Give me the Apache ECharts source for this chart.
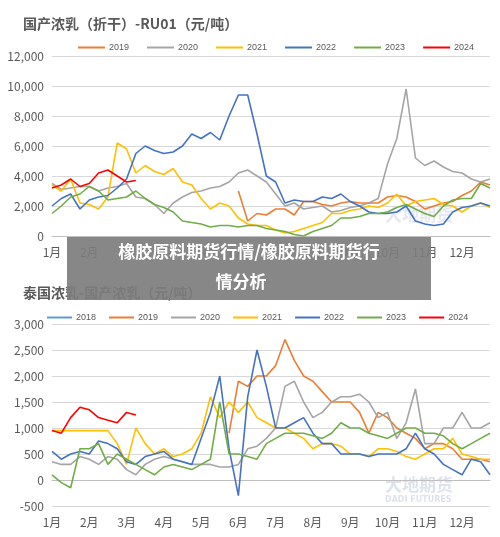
<!DOCTYPE html>
<html><head><meta charset="utf-8">
<script src="https://cdn.jsdelivr.net/npm/echarts@6/dist/echarts.min.js"></script>
<style>html,body{margin:0;padding:0;background:#fff}#c{width:500px;height:537px}</style>
</head><body><div id="c"></div>
<script>
const months = ['1月','2月','3月','4月','5月','6月','7月','8月','9月','10月','11月','12月'];
const years = ['2018','2019','2020','2021','2022','2023','2024'];
const colors = ['#5B9BD5','#ED7D31','#A5A5A5','#FFC000','#4472C4','#70AD47','#FF0000'];
const N = 48;
const N0 = null;
// Top chart: 国产浓乳（折干）-RU01
const top2019 = [N0,N0,N0,N0,N0,N0,N0,N0,N0,N0,N0,N0,N0,N0,N0,N0,N0,N0,N0,N0,3000,1000,1500,1400,1800,1800,1400,2300,2300,2100,2000,2200,2300,2200,2200,2200,2600,2700,2600,2300,1800,2000,2200,2300,2700,3000,3600,3400];
const top2020 = [3500,3100,3200,3300,3300,3000,3200,3300,3500,2600,2500,2100,1500,2200,2600,2900,3000,3200,3300,3600,4200,4400,4000,3600,2800,2000,2200,1800,1900,2000,1600,1700,1900,2000,2200,2500,4800,6500,9800,5200,4700,5000,4600,4300,4200,3800,3600,3800];
const top2021 = [3400,3000,3800,2200,2100,1800,2600,6200,5800,4200,4700,4300,4100,4500,3600,3400,2500,1800,2200,2000,1200,800,700,700,400,200,300,500,700,900,1500,1500,1700,1800,2000,1900,2200,2800,2000,2300,2400,2500,2100,2000,1600,2000,2200,1900];
const top2022 = [2000,2500,2800,1800,2400,2600,2700,3200,3800,5500,6000,5700,5500,5600,6000,6800,6500,6900,6400,8000,9400,9400,6800,4000,3600,2200,2400,2300,2300,2600,2500,2800,2300,2000,1600,1500,1500,1600,2000,1000,800,700,800,1600,1900,2000,2200,2000];
const top2023 = [1500,2000,2600,2800,3300,3000,2400,2500,2600,3000,2500,2100,1900,1600,1000,900,800,600,700,700,600,700,700,500,400,300,100,0,300,500,700,1200,1200,1300,1500,1500,1600,1900,2100,1800,1500,1300,2000,2400,2500,2500,3500,3200];
const top2024 = [3200,3400,3800,3300,3500,4200,4400,4000,3600,3700];
// Bottom chart: 泰国浓乳-国产浓乳
const bot2018 = [];
const bot2019 = [N0,N0,N0,N0,N0,N0,N0,N0,N0,N0,N0,N0,N0,N0,N0,N0,N0,N0,N0,900,1900,1800,2000,2000,2200,2700,2300,2000,1900,1700,1500,1500,1500,1300,900,1300,1200,1000,900,800,600,700,700,600,400,400,400,350];
const bot2020 = [350,300,300,450,400,300,450,400,200,100,300,400,450,400,350,300,300,300,250,250,300,600,650,800,1000,1800,1900,1500,1200,1300,1500,1600,1600,1650,1500,1200,1300,800,1100,1750,700,700,1000,1000,1300,1000,1000,1100];
const bot2021 = [950,950,950,950,950,950,950,700,300,1000,700,500,600,450,500,600,900,1600,1200,1500,1300,1500,1200,1100,1000,1000,900,800,600,700,700,650,500,500,450,600,600,550,450,400,500,600,600,800,500,450,400,400];
const bot2022 = [550,400,500,550,500,750,700,600,350,300,450,500,550,400,350,300,800,1300,2000,600,-300,1600,2500,1800,1000,1000,1100,1200,900,700,700,500,500,500,450,500,500,500,600,900,600,500,300,200,100,400,350,100];
const bot2023 = [100,-50,-150,600,600,700,300,500,400,300,200,100,250,300,250,200,300,400,1500,500,500,450,400,700,800,900,900,900,850,800,900,1100,1000,1000,900,850,800,900,1000,1000,900,900,850,700,600,700,800,900];
const bot2024 = [950,900,1200,1400,1350,1200,1150,1100,1300,1250];
const topTicks = {min:0,max:12000,interval:2000};
const botTicks = {min:-500,max:3000,interval:500};

const cats = Array.from({length:N},(_,i)=>i);
const topData = [null, top2019, top2020, top2021, top2022, top2023, top2024];
const botData = [bot2018, bot2019, bot2020, bot2021, bot2022, bot2023, bot2024];
const axisLbl = {color:'#595959', fontSize:11, fontFamily:'Noto Sans CJK SC'};
function xAxis(gi){return {type:'category',gridIndex:gi,data:cats,boundaryGap:false,
  axisTick:{show:false},axisLine:{lineStyle:{color:'#bfbfbf'}},
  axisLabel:Object.assign({},axisLbl,{fontSize:12,interval:0,margin:10,formatter:v=>(v%4===0?months[v/4]:'')})};}
function yAxis(gi,t){return Object.assign({type:'value',gridIndex:gi,axisLine:{show:false},axisTick:{show:false},
  splitLine:{lineStyle:{color:'#d9d9d9'}},axisLabel:Object.assign({},axisLbl,{fontSize:12})},t);}
const series=[];
years.forEach((y,k)=>{
  if(topData[k]) series.push({name:y,type:'line',xAxisIndex:0,yAxisIndex:0,data:topData[k],symbol:'none',lineStyle:{width:1.6,color:colors[k]},itemStyle:{color:colors[k]},z:k});
  series.push({name:y,type:'line',xAxisIndex:1,yAxisIndex:1,data:botData[k],symbol:'none',lineStyle:{width:1.6,color:colors[k]},itemStyle:{color:colors[k]},z:k});
});
const legStyle={icon:'rect',itemHeight:2,width:460,padding:0,textStyle:{color:'#595959',fontSize:9,padding:[0,0,0,-1]}};
const chart=echarts.init(document.getElementById('c'));
chart.setOption({
  animation:false,
  title:[{text:'国产浓乳（折干）-RU01（元/吨）',left:18,top:12,textStyle:{fontSize:14,fontWeight:'bold',color:'#595959',fontFamily:'Noto Sans CJK SC'}},
         {text:'泰国浓乳-国产浓乳（元/吨）',left:18,top:281,textStyle:{fontSize:14,fontWeight:'bold',color:'#595959',fontFamily:'Noto Sans CJK SC'}}],
  legend:[Object.assign({data:years.slice(1),left:78,top:43,itemGap:18,itemWidth:27},legStyle),
          Object.assign({data:years,left:47,top:313,itemGap:13,itemWidth:25},legStyle)],
  grid:[{left:52,right:10,top:56,height:180},{left:52,right:10,top:324,height:182}],
  xAxis:[xAxis(0),xAxis(1)],
  yAxis:[yAxis(0,topTicks),yAxis(1,botTicks)],
  series:series,
  graphic:[
    {type:'text',left:385,top:206,z:0,style:{text:'大地期货',fill:'rgba(180,190,210,0.35)',font:'bold 17px "Noto Sans CJK SC"'}},
    {type:'text',left:385,top:476,z:0,style:{text:'大地期货',fill:'rgba(180,190,210,0.45)',font:'bold 17px "Noto Sans CJK SC"'}},
    {type:'text',left:385,top:496,z:0,style:{text:'DADI FUTURES',fill:'rgba(180,190,210,0.45)',font:'bold 8px "DejaVu Sans"'}},
    {type:'rect',shape:{x:67,y:237,width:364,height:63},style:{fill:'rgba(125,125,125,0.92)'},z:100},
    {type:'text',x:249,y:252,z:101,style:{text:'橡胶原料期货行情/橡胶原料期货行',fill:'#fff',font:'bold 17px "Noto Sans CJK SC"',textAlign:'center',textVerticalAlign:'middle'}},
    {type:'text',x:241,y:282,z:101,style:{text:'情分析',fill:'#fff',font:'bold 17px "Noto Sans CJK SC"',textAlign:'center',textVerticalAlign:'middle'}}
  ]
});
</script></body></html>
